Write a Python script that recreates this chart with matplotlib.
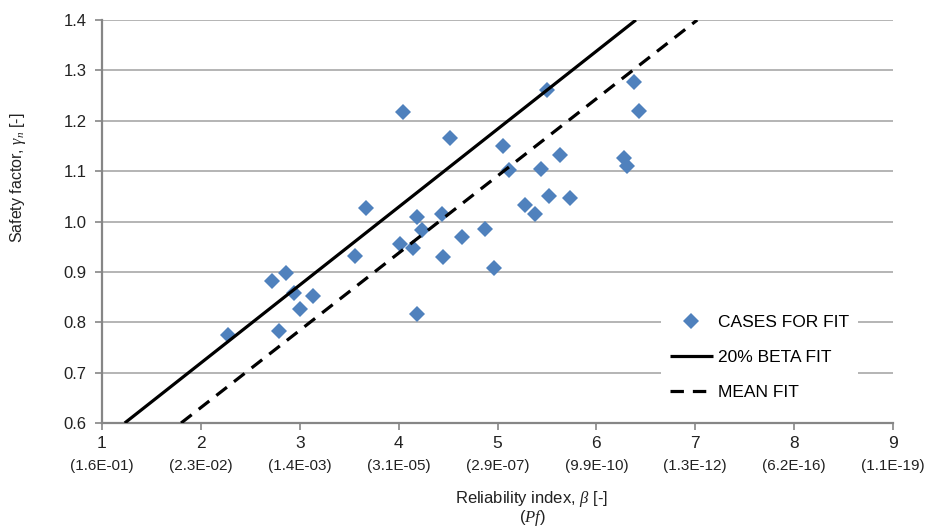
import numpy as np
import matplotlib
matplotlib.use('Agg')
import matplotlib.pyplot as plt
import matplotlib.transforms as mtransforms

plt.rcParams['font.family'] = ['Liberation Sans', 'DejaVu Sans']
plt.rcParams['mathtext.fontset'] = 'custom'
plt.rcParams['mathtext.it'] = 'Liberation Serif:italic'

# data
beta = [2.27, 2.72, 2.86, 2.79, 2.94, 3.00, 3.13, 3.56, 3.67, 4.01, 4.04, 4.15,
        4.19, 4.24, 4.19, 4.44, 4.45, 4.52, 4.64, 4.87, 4.96, 5.06, 5.12, 5.28,
        5.38, 5.44, 5.50, 5.52, 5.63, 5.73, 6.28, 6.31, 6.38, 6.43]
gamma = [0.775, 0.882, 0.898, 0.783, 0.858, 0.827, 0.852, 0.932, 1.027, 0.956,
         1.217, 0.948, 1.009, 0.983, 0.817, 1.015, 0.930, 1.166, 0.969, 0.985,
         0.908, 1.150, 1.102, 1.033, 1.015, 1.104, 1.261, 1.051, 1.132, 1.047,
         1.126, 1.110, 1.277, 1.219]

fit20_beta = [1.23, 6.40]        # 20% beta fit line ends
fit20_gamma = [0.60, 1.40]
mean_beta = [1.80, 7.02]         # mean fit line ends
mean_gamma = [0.60, 1.40]

beta_ticks = [1, 2, 3, 4, 5, 6, 7, 8, 9]
pf_labels = ['(1.6E-01)', '(2.3E-02)', '(1.4E-03)', '(3.1E-05)', '(2.9E-07)',
             '(9.9E-10)', '(1.3E-12)', '(6.2E-16)', '(1.1E-19)']
gamma_ticks = [0.6, 0.7, 0.8, 0.9, 1.0, 1.1, 1.2, 1.3, 1.4]

blue = '#4F81BD'
axgray = '#868686'
txt = '#222222'

fig = plt.figure(figsize=(9.25, 5.29), dpi=100)
ax = fig.add_axes([102/925, 1 - 423/529, 791/925, 403/529])

ax.plot(beta, gamma, 'D', color=blue, markersize=8.5, markeredgewidth=0,
        label='CASES FOR FIT', zorder=3)
ax.plot(fit20_beta, fit20_gamma, color='black', lw=2.3, label='20% BETA FIT',
        zorder=4, solid_capstyle='butt')
ax.plot(mean_beta, mean_gamma, color='black', lw=2.3, dashes=(4.2, 2.8),
        label='MEAN FIT', zorder=4)

ax.set_xlim(1, 9)
ax.set_ylim(0.6, 1.4)
ax.set_yticks(gamma_ticks)
ax.set_yticklabels(['%.1f' % g for g in gamma_ticks], fontsize=12, color=txt)
ax.set_xticks(beta_ticks)
ax.set_xticklabels([str(b) for b in beta_ticks], fontsize=12.5, color=txt)
ax.tick_params(axis='both', direction='out', length=5, width=1.2, color=axgray)
ax.tick_params(axis='x', pad=4)
ax.tick_params(axis='y', pad=6)

trans = mtransforms.blended_transform_factory(ax.transData, fig.transFigure)
for b, lab in zip(beta_ticks, pf_labels):
    ax.text(b, 1 - 466/529, lab, transform=trans, ha='center', va='center',
            fontsize=11, color=txt)

ax.grid(axis='y', color='#b4b4b4', lw=1.4, zorder=0)
ax.set_axisbelow(True)
for s in ['top', 'right']:
    ax.spines[s].set_visible(False)
for s in ['left', 'bottom']:
    ax.spines[s].set_color(axgray)
    ax.spines[s].set_linewidth(1.6)

fig.text(18/925, 1 - 178/529, r'Safety factor, $\gamma_n$ [-]', rotation=90,
         ha='center', va='center', fontsize=11.5, color=txt)
fig.text(532/925, 1 - 499/529, r'Reliability index, $\beta$ [-]', ha='center',
         va='center', fontsize=12, color=txt)
fig.text(532/925, 1 - 518/529, r'($Pf$)', ha='center', va='center',
         fontsize=12, color=txt)

leg = ax.legend(loc='upper left', bbox_to_anchor=(661/925, 1 - 306/529),
                bbox_transform=fig.transFigure, borderaxespad=0, fontsize=12.5,
                frameon=True, fancybox=False, framealpha=1, edgecolor='none',
                handlelength=2.5, labelspacing=1.15, handletextpad=0.3,
                borderpad=0.5)
leg.get_frame().set_linewidth(0)
leg.set_zorder(5)

fig.savefig('out.png', dpi=100)
